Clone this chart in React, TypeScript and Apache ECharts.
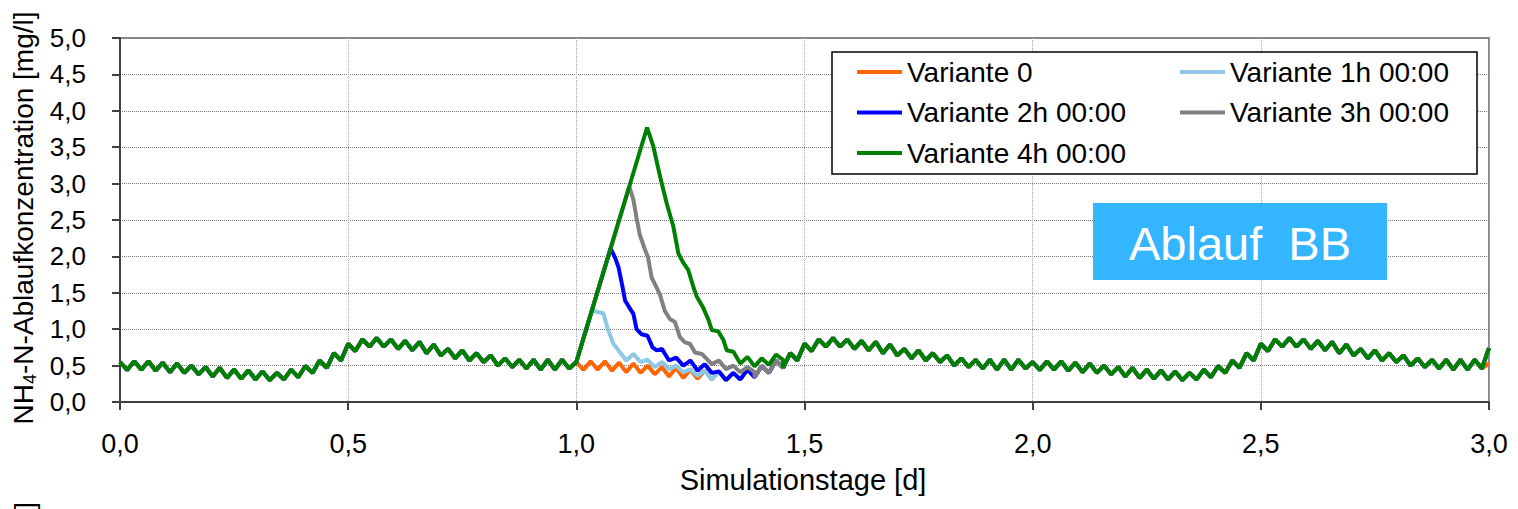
import React, { useEffect, useRef } from "react";
import * as echarts from "echarts";

// ---------- data ----------
const SERIES_NAMES = [
  "Variante 0",
  "Variante 1h 00:00",
  "Variante 2h 00:00",
  "Variante 3h 00:00",
  "Variante 4h 00:00",
];
const SERIES_COLORS = ["#FF6600", "#8EC8E6", "#0000FF", "#808080", "#008000"];

// simulated days; the daily load profile repeats every day
const DAYS = [0, 1, 2];
// daily profile: 32 peaks per day at k/32, troughs halfway between
const DAY_PEAKS = [
  0.55, 0.56, 0.56, 0.54, 0.53, 0.5, 0.48, 0.47, 0.445, 0.435, 0.42, 0.4, 0.445,
  0.495, 0.57, 0.67, 0.8, 0.86, 0.88, 0.86, 0.84, 0.825, 0.79, 0.73, 0.71, 0.67,
  0.64, 0.6, 0.58, 0.58, 0.58, 0.58,
];
const DAY_TROUGHS = [
  0.44, 0.445, 0.43, 0.41, 0.4, 0.38, 0.35, 0.33, 0.32, 0.31, 0.3, 0.31, 0.34,
  0.4, 0.47, 0.57, 0.7, 0.76, 0.76, 0.73, 0.71, 0.67, 0.64, 0.6, 0.57, 0.55, 0.5,
  0.48, 0.46, 0.445, 0.445, 0.46,
];
const END_VARIANTE_0 = 0.53;
const END_SHOCK = 0.74;

// shock load on day 2 (time [d], value [mg/l])
const EVENT_1H: [number, number][] = [
  [1.0, 0.55], [1.034, 1.26], [1.0446, 1.24], [1.0592, 1.22], [1.0701, 0.98],
  [1.0811, 0.8], [1.0921, 0.71], [1.1094, 0.57], [1.125, 0.66], [1.1406, 0.55],
  [1.15625, 0.58], [1.1719, 0.48], [1.1875, 0.55], [1.2031, 0.45], [1.21875, 0.5],
  [1.2344, 0.41], [1.25, 0.45], [1.2656, 0.36], [1.28125, 0.43],
];
const EVENT_2H: [number, number][] = [
  [1.0, 0.55], [1.075, 2.11], [1.085, 1.98], [1.0925, 1.85], [1.1, 1.62],
  [1.107, 1.39], [1.118, 1.28], [1.125, 1.21], [1.132, 1.0], [1.143, 0.93],
  [1.156, 0.91], [1.167, 0.75], [1.176, 0.71], [1.1875, 0.73], [1.2031, 0.57],
  [1.21875, 0.61], [1.2344, 0.5], [1.25, 0.57], [1.2656, 0.43], [1.28125, 0.52],
  [1.2969, 0.4],
];
const EVENT_3H: [number, number][] = [
  [1.0, 0.55], [1.116, 2.96], [1.125, 2.78], [1.132, 2.53], [1.139, 2.3],
  [1.15, 2.1], [1.157, 1.99], [1.165, 1.71], [1.176, 1.57], [1.183, 1.48],
  [1.194, 1.25], [1.205, 1.14], [1.216, 1.1], [1.227, 0.89], [1.238, 0.82],
  [1.249, 0.8], [1.26, 0.68], [1.275, 0.66], [1.2969, 0.52], [1.3125, 0.57],
  [1.3281, 0.45], [1.34375, 0.5], [1.3594, 0.41], [1.375, 0.48], [1.3906, 0.41],
];
const EVENT_4H: [number, number][] = [
  [1.0, 0.55], [1.155, 3.77], [1.1688, 3.51], [1.1834, 3.1], [1.198, 2.73],
  [1.2126, 2.41], [1.2236, 2.04], [1.2346, 1.91], [1.2455, 1.81], [1.2565, 1.58],
  [1.2638, 1.45], [1.2784, 1.29], [1.2894, 1.13], [1.2967, 0.99], [1.3113, 0.97],
  [1.3223, 0.85], [1.3296, 0.71], [1.3442, 0.69], [1.3594, 0.53], [1.375, 0.62],
  [1.3906, 0.49], [1.40625, 0.6], [1.4219, 0.51], [1.4375, 0.65], [1.4531, 0.58],
];
const EVENTS = [null, EVENT_1H, EVENT_2H, EVENT_3H, EVENT_4H];

const FONT = "'Liberation Sans', Arial, sans-serif";

function dailyProfile(): [number, number][] {
  const pts: [number, number][] = [];
  DAYS.forEach((d) => {
    DAY_PEAKS.forEach((p, k) => {
      pts.push([d + k / DAY_PEAKS.length, p]);
      pts.push([d + (k + 0.5) / DAY_PEAKS.length, DAY_TROUGHS[k]]);
    });
  });
  return pts;
}

function buildSeriesData(idx: number): [number, number][] {
  const base = dailyProfile();
  const ev = EVENTS[idx];
  if (!ev) return [...base, [3, END_VARIANTE_0]];
  const start = ev[0][0];
  const end = ev[ev.length - 1][0];
  return [
    ...base.filter((p) => p[0] < start - 1e-9),
    ...ev,
    ...base.filter((p) => p[0] > end + 1e-9),
    [3, END_SHOCK],
  ];
}

const fmt = (v: number) => v.toFixed(1).replace(".", ",");

export default function App() {
  const ref = useRef<HTMLDivElement>(null);

  useEffect(() => {
    if (!ref.current) return;
    const chart = echarts.init(ref.current, null, { renderer: "svg" });
    const axisDark = "#404040";
    const option: any = {
      animation: false,
      backgroundColor: "#ffffff",
      textStyle: { fontFamily: FONT },
      grid: {
        left: 120,
        right: 29,
        top: 38,
        bottom: 107,
        show: true,
        borderColor: "#8a8a8a",
        borderWidth: 2,
        containLabel: false,
      },
      xAxis: {
        type: "value",
        min: 0,
        max: 3,
        interval: 0.5,
        axisLine: { show: true, onZero: false, lineStyle: { color: axisDark, width: 2 } },
        axisTick: { show: true, length: 8, lineStyle: { color: axisDark, width: 2 } },
        axisLabel: {
          formatter: fmt,
          fontSize: 27,
          color: "#000",
          fontFamily: FONT,
          margin: 28,
        },
        splitLine: { show: true, lineStyle: { color: "#a8a8a8", type: "dotted", width: 1 } },
      },
      yAxis: {
        type: "value",
        min: 0,
        max: 5,
        interval: 0.5,
        axisLine: { show: true, lineStyle: { color: axisDark, width: 2 } },
        axisTick: { show: true, length: 8, lineStyle: { color: axisDark, width: 2 } },
        axisLabel: {
          formatter: fmt,
          fontSize: 26,
          color: "#000",
          fontFamily: FONT,
          margin: 34,
        },
        splitLine: { show: true, lineStyle: { color: "#7a7a7a", type: "dotted", width: 1 } },
      },
      legend: [
        {
          data: [SERIES_NAMES[0], SERIES_NAMES[2], SERIES_NAMES[4]],
          orient: "vertical",
          left: 857,
          top: 57,
          padding: 0,
          itemGap: 10.5,
          itemWidth: 45,
          itemHeight: 4,
          icon: "rect",
          selectedMode: false,
          z: 10,
          textStyle: { fontSize: 28, lineHeight: 30, color: "#000", fontFamily: FONT },
        },
        {
          data: [SERIES_NAMES[1], SERIES_NAMES[3]],
          orient: "vertical",
          left: 1180,
          top: 57,
          padding: 0,
          itemGap: 10.5,
          itemWidth: 45,
          itemHeight: 4,
          icon: "rect",
          selectedMode: false,
          z: 10,
          textStyle: { fontSize: 28, lineHeight: 30, color: "#000", fontFamily: FONT },
        },
      ],
      graphic: [
        {
          type: "rect",
          z: 5,
          shape: { x: 832, y: 52, width: 645, height: 122 },
          style: { fill: "#ffffff", stroke: "#000000", lineWidth: 1.5 },
        },
        {
          type: "rect",
          z: 5,
          shape: { x: 1093, y: 203, width: 294, height: 77 },
          style: { fill: "#33B5FF" },
        },
        {
          type: "text",
          z: 6,
          x: 1240,
          y: 243,
          style: {
            text: "Ablauf  BB",
            fontSize: 47,
            fontFamily: FONT,
            fill: "#ffffff",
            align: "center",
            verticalAlign: "middle",
          },
        },
        {
          type: "text",
          z: 6,
          x: 803,
          y: 480,
          style: {
            text: "Simulationstage [d]",
            fontSize: 29,
            fontFamily: FONT,
            fill: "#000",
            align: "center",
            verticalAlign: "middle",
          },
        },
        {
          type: "text",
          z: 6,
          x: 23,
          y: 218,
          rotation: Math.PI / 2,
          style: {
            text: "{a|NH}{s|4}{a|-N-Ablaufkonzentration [mg/l]}",
            align: "center",
            verticalAlign: "middle",
            fill: "#000",
            rich: {
              a: { fontSize: 28, lineHeight: 32, fontFamily: FONT, fill: "#000" },
              s: { fontSize: 18, lineHeight: 18, fontFamily: FONT, fill: "#000", verticalAlign: "bottom" },
            },
          },
        },
        {
          type: "text",
          z: 6,
          x: 24,
          y: 502,
          rotation: Math.PI / 2,
          style: {
            text: "]",
            fontSize: 28,
            fontFamily: FONT,
            fill: "#000",
            align: "right",
            verticalAlign: "middle",
          },
        },
      ],
      series: SERIES_NAMES.map((name, i) => ({
        name,
        type: "line",
        data: buildSeriesData(i),
        showSymbol: false,
        symbol: "none",
        color: SERIES_COLORS[i],
        lineStyle: { color: SERIES_COLORS[i], width: 4 },
        itemStyle: { color: SERIES_COLORS[i] },
        z: 2 + i,
      })),
    };
    chart.setOption(option);
    return () => chart.dispose();
  }, []);

  return (
    <div
      ref={ref}
      style={{ position: "absolute", left: 0, top: 0, width: 1518, height: 509 }}
    />
  );
}
